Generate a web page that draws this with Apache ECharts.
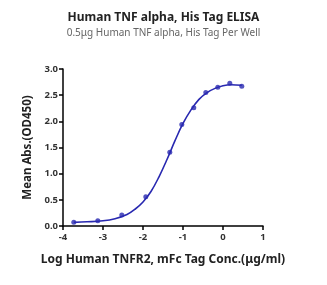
<!DOCTYPE html>
<html><head><meta charset="utf-8">
<script src="https://cdn.jsdelivr.net/npm/echarts@6/dist/echarts.min.js"></script>
<style>html,body{margin:0;padding:0;background:#fff}#c{width:327px;height:285px}</style>
</head><body><div id="c"></div>
<script>
const logConc = [-3.73, -3.13, -2.53, -1.93, -1.33, -1.03, -0.73, -0.43, -0.13, 0.17, 0.47];
const meanAbs = [0.07, 0.10, 0.21, 0.56, 1.41, 1.94, 2.26, 2.55, 2.65, 2.73, 2.67];
const curveX = [-3.73, -3.4, -3.0, -2.7, -2.4, -2.2, -2.0, -1.8, -1.6, -1.4, -1.2, -1.0, -0.8, -0.6, -0.4, -0.2, 0.0, 0.2, 0.47];
const curveY = [0.07, 0.08, 0.10, 0.14, 0.22, 0.32, 0.46, 0.66, 0.94, 1.27, 1.63, 1.96, 2.22, 2.42, 2.55, 2.63, 2.68, 2.70, 2.69];
const xTicks = [-4, -3, -2, -1, 0, 1];
const yTicks = [0, 0.5, 1, 1.5, 2, 2.5, 3];
const color = '#2828b0';
const font = '"Noto Sans", sans-serif';
const chart = echarts.init(document.getElementById('c'), null, {renderer: 'canvas'});
chart.setOption({
  animation: false,
  title: {
    text: 'Human TNF alpha, His Tag ELISA',
    subtext: '0.5μg Human TNF alpha, His Tag Per Well',
    left: 'center', top: 7, itemGap: 4,
    textStyle: {fontFamily: font, fontSize: 12, fontWeight: 'bold', color: '#222'},
    subtextStyle: {fontFamily: font, fontSize: 10, color: '#666'}
  },
  grid: {left: 63, right: 64, top: 69, bottom: 59},
  xAxis: {
    type: 'value', min: xTicks[0], max: xTicks[xTicks.length - 1], interval: 1,
    name: 'Log Human TNFR2, mFc Tag Conc.(μg/ml)', nameLocation: 'middle', nameGap: 28,
    nameTextStyle: {fontFamily: font, fontSize: 12, fontWeight: 'bold', color: '#222'},
    axisLine: {onZero: false, lineStyle: {color: '#000', width: 1.5}},
    axisTick: {length: 4, lineStyle: {color: '#000', width: 1.5}},
    axisLabel: {fontFamily: font, fontSize: 9.5, fontWeight: 'bold', color: '#333', margin: 6},
    splitLine: {show: false}
  },
  yAxis: {
    type: 'value', min: yTicks[0], max: yTicks[yTicks.length - 1], interval: 0.5,
    name: 'Mean Abs.(OD450)', nameLocation: 'middle', nameGap: 26,
    nameTextStyle: {fontFamily: font, fontSize: 11.5, fontWeight: 'bold', color: '#222'},
    axisLine: {show: true, onZero: false, lineStyle: {color: '#000', width: 1.5}},
    axisTick: {show: true, length: 4, lineStyle: {color: '#000', width: 1.5}},
    axisLabel: {fontFamily: font, fontSize: 9.5, fontWeight: 'bold', color: '#333', margin: 5,
      formatter: v => v.toFixed(1)},
    splitLine: {show: false}
  },
  series: [
    {type: 'line', data: curveX.map((x, i) => [x, curveY[i]]), smooth: 0.4, showSymbol: false,
      lineStyle: {color: color, width: 1.6}, z: 2},
    {type: 'scatter', data: logConc.map((x, i) => [x, meanAbs[i]]), symbolSize: 5,
      itemStyle: {color: color}, z: 3}
  ]
});
</script></body></html>
